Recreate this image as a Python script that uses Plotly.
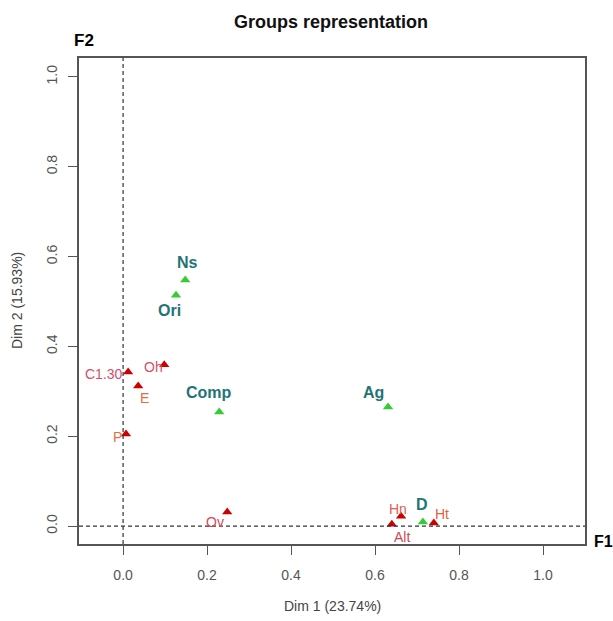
import plotly.graph_objects as go

# Active groups (green)
grp_names = ["Ns", "Ori", "Comp", "Ag", "D"]
grp_x = [0.148, 0.126, 0.229, 0.631, 0.714]
grp_y = [0.548, 0.514, 0.254, 0.265, 0.009]

# Supplementary groups (red)
sup_names = ["C1.30", "Oh", "E", "P", "Ov", "Hn", "Alt", "Ht"]
sup_x = [0.012, 0.098, 0.036, 0.007, 0.248, 0.662, 0.640, 0.740]
sup_y = [0.343, 0.359, 0.312, 0.205, 0.031, 0.022, 0.004, 0.007]
sup_colors = ["#d0506a", "#d0506a", "#e07040", "#e07040", "#d04a55", "#e06050", "#d04a55", "#e06040"]

tick_vals = [0.0, 0.2, 0.4, 0.6, 0.8, 1.0]
tick_text = ["0.0", "0.2", "0.4", "0.6", "0.8", "1.0"]

FONT = "Liberation Sans, Arial, sans-serif"

fig = go.Figure()
fig.add_trace(go.Scatter(x=grp_x, y=grp_y, mode="markers",
                         marker=dict(symbol="triangle-up", size=9, color="#33cc33"),
                         hoverinfo="text", text=grp_names, showlegend=False))
fig.add_trace(go.Scatter(x=sup_x, y=sup_y, mode="markers",
                         marker=dict(symbol="triangle-up", size=9, color="#cc0000"),
                         hoverinfo="text", text=sup_names, showlegend=False))

# label offsets (pixels)
grp_off = {"Ns": (2, 17), "Ori": (-7, -15), "Comp": (-10, 19), "Ag": (-15, 15), "D": (-1, 17)}
sup_off = {"C1.30": (-24, -2), "Oh": (-11, -2), "E": (6, -12), "P": (-9, -3),
           "Ov": (-12, -10), "Hn": (-3, 7), "Alt": (10, -13), "Ht": (8, 9)}

for n, x, y in zip(grp_names, grp_x, grp_y):
    dx, dy = grp_off[n]
    fig.add_annotation(x=x, y=y, text="<b>%s</b>" % n, showarrow=False,
                       xshift=dx, yshift=dy, font=dict(family=FONT, size=16, color="#1f7575"))
for n, x, y, c in zip(sup_names, sup_x, sup_y, sup_colors):
    dx, dy = sup_off[n]
    fig.add_annotation(x=x, y=y, text=n, showarrow=False,
                       xshift=dx, yshift=dy, font=dict(family=FONT, size=14, color=c))

# dashed reference lines
fig.add_shape(type="line", xref="x", yref="paper", x0=0, x1=0, y0=0, y1=1,
              line=dict(color="#333333", width=1.2, dash="4px,3px"))
fig.add_shape(type="line", xref="paper", yref="y", x0=0, x1=1, y0=0, y1=0,
              line=dict(color="#333333", width=1.2, dash="4px,3px"))

# title, F1/F2 labels, axis titles
fig.add_annotation(xref="paper", yref="paper", x=0.498, y=1.074, text="<b>Groups representation</b>",
                   showarrow=False, xanchor="center", yanchor="middle",
                   font=dict(family=FONT, size=18, color="#111111"))
fig.add_annotation(xref="paper", yref="paper", x=0.01, y=1.037, text="<b>F2</b>",
                   showarrow=False, xanchor="center", yanchor="middle",
                   font=dict(family=FONT, size=17, color="black"))
fig.add_annotation(xref="paper", yref="paper", x=1.014, y=0.005, text="<b>F1</b>",
                   showarrow=False, xanchor="left", yanchor="middle",
                   font=dict(family=FONT, size=16, color="black"))
fig.add_annotation(xref="paper", yref="paper", x=0.5, y=-0.128, text="Dim 1 (23.74%)",
                   showarrow=False, xanchor="center", yanchor="middle",
                   font=dict(family=FONT, size=14, color="#444444"))
fig.add_annotation(xref="paper", yref="paper", x=-0.1225, y=0.5, text="Dim 2 (15.93%)",
                   showarrow=False, xanchor="center", yanchor="middle", textangle=-90,
                   font=dict(family=FONT, size=14, color="#444444"))

fig.update_layout(
    width=613, height=621, autosize=False,
    margin=dict(l=79, r=28, t=58, b=77),
    paper_bgcolor="white", plot_bgcolor="white",
    font=dict(family=FONT, color="#444444"),
    xaxis=dict(range=[-0.105, 1.1], tickvals=tick_vals, ticktext=tick_text, automargin=False,
               showgrid=False, zeroline=False, showline=True, mirror=True,
               linecolor="#555555", linewidth=1.5, ticks="outside", ticklen=9,
               tickcolor="#555555", ticklabelstandoff=8, tickfont=dict(size=14, color="#555555")),
    yaxis=dict(range=[-0.04, 1.042], tickvals=tick_vals, ticktext=tick_text, automargin=False,
               showgrid=False, zeroline=False, showline=True, mirror=True,
               linecolor="#555555", linewidth=1.5, ticks="outside", ticklen=9,
               tickcolor="#555555", tickangle=-90, ticklabelstandoff=6,
               tickfont=dict(size=14, color="#555555")),
)

fig.write_html("out.html", config={"displayModeBar": False},
               post_script="document.body.style.margin='0';document.body.style.overflow='hidden';")
